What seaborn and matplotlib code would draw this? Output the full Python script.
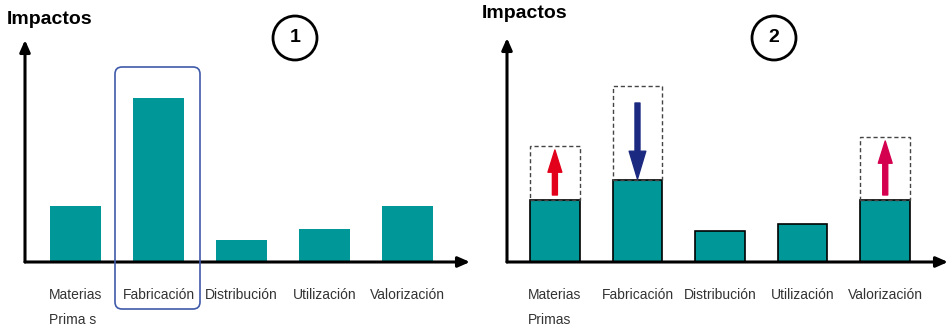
import seaborn as sns
import matplotlib.pyplot as plt
import pandas as pd
from matplotlib.patches import Ellipse, FancyBboxPatch, Rectangle

# data
labels_1 = ['Materias\nPrima s', 'Fabricación', 'Distribución', 'Utilización', 'Valorización']
labels_2 = ['Materias\nPrimas', 'Fabricación', 'Distribución', 'Utilización', 'Valorización']
impacts_1 = [56, 164, 22, 33, 56]
impacts_2 = [62, 82, 31, 38, 62]
before_2 = [116, 176, None, None, 125]   # dashed boxes (previous level)
change_2 = ['up', 'down', None, None, 'up']
arrow_colors = {0: '#e2001a', 1: '#1b2a80', 4: '#d4004f'}

teal = '#009799'

sns.set_style('white')
plt.rcParams['font.family'] = ['Liberation Sans', 'DejaVu Sans']

W, H = 949, 328
fig = plt.figure(figsize=(W / 100, H / 100), dpi=100)


def px_axes(x0, x1, ytop, ybot):
    return fig.add_axes([x0 / W, (H - ybot) / H, (x1 - x0) / W, (ybot - ytop) / H])


def style_axes(ax, labels, xlim, ytop):
    ax.set_xlim(*xlim)
    ax.set_ylim(0, ytop)
    for s in ax.spines.values():
        s.set_visible(False)
    ax.set_yticks([])
    ax.set_xlabel('')
    ax.set_ylabel('')
    ax.set_xticks(range(len(labels)))
    ax.set_xticklabels(labels, fontsize=10, color='#333333', linespacing=1.95,
                       multialignment='left', va='top')
    ax.tick_params(axis='x', length=0, pad=19)
    arr = dict(arrowstyle='-|>,head_length=0.5,head_width=0.22', lw=2.2,
               color='black', shrinkA=0, shrinkB=0, mutation_scale=14)
    ax.annotate('', xy=(0, 1), xytext=(0, 0), xycoords='axes fraction',
                arrowprops=arr, annotation_clip=False)
    ax.annotate('', xy=(1, 0), xytext=(0, 0), xycoords='axes fraction',
                arrowprops=arr, annotation_clip=False)


# ---- panel 1
ax1 = px_axes(25, 470, 40, 262)
df1 = pd.DataFrame({'etapa': labels_1, 'impacto': impacts_1})
sns.barplot(data=df1, x='etapa', y='impacto', color=teal, saturation=1,
            width=0.62, ax=ax1, linewidth=0)
style_axes(ax1, labels_1, (-0.61, 4.75), 222)

# ---- panel 2
ax2 = px_axes(507, 948, 38, 262)
df2 = pd.DataFrame({'etapa': labels_2, 'impacto': impacts_2})
sns.barplot(data=df2, x='etapa', y='impacto', color=teal, saturation=1,
            width=0.6, ax=ax2, edgecolor='black', linewidth=1.2)
style_axes(ax2, labels_2, (-0.58, 4.76), 224)

for i, (v, b, d) in enumerate(zip(impacts_2, before_2, change_2)):
    if b is None:
        continue
    ax2.add_patch(Rectangle((i - 0.3, v), 0.6, b - v, fill=False, ls=(0, (3, 2)),
                            lw=1, edgecolor='#444444', zorder=4, clip_on=False))
    if d == 'up':
        ax2.annotate('', xy=(i, b - 4), xytext=(i, v + 5),
                     arrowprops=dict(arrowstyle='simple,head_length=0.8,head_width=0.5,tail_width=0.18',
                                     color=arrow_colors[i], shrinkA=0, shrinkB=0, mutation_scale=20))
    else:
        ax2.annotate('', xy=(i, v + 1), xytext=(i, b - 17),
                     arrowprops=dict(arrowstyle='simple,head_length=1.0,head_width=0.6,tail_width=0.18',
                                     color=arrow_colors[i], shrinkA=0, shrinkB=0, mutation_scale=20))

# titles
fig.text(7 / W, (H - 24) / H, 'Impactos', fontsize=14, fontweight='bold',
         va='baseline', color='black')
fig.text(482 / W, (H - 18) / H, 'Impactos', fontsize=14, fontweight='bold',
         va='baseline', color='black')

# numbered circles
for cx, num in [(295, '1'), (774, '2')]:
    fig.add_artist(Ellipse((cx / 100, (H - 38) / 100), 0.44, 0.44, fill=False,
                           lw=2, edgecolor='black', transform=fig.dpi_scale_trans))
    fig.text(cx / W, (H - 38) / H, num, fontsize=14, fontweight='bold',
             ha='center', va='center', color='black')

# highlight box around Fabricación
fig.add_artist(FancyBboxPatch((1.15, 0.19), 0.85, 2.42,
                              boxstyle='round,pad=0,rounding_size=0.07',
                              fill=False, lw=1.2, edgecolor='#3f5aa9',
                              transform=fig.dpi_scale_trans))

plt.savefig('out.png', dpi=100)
